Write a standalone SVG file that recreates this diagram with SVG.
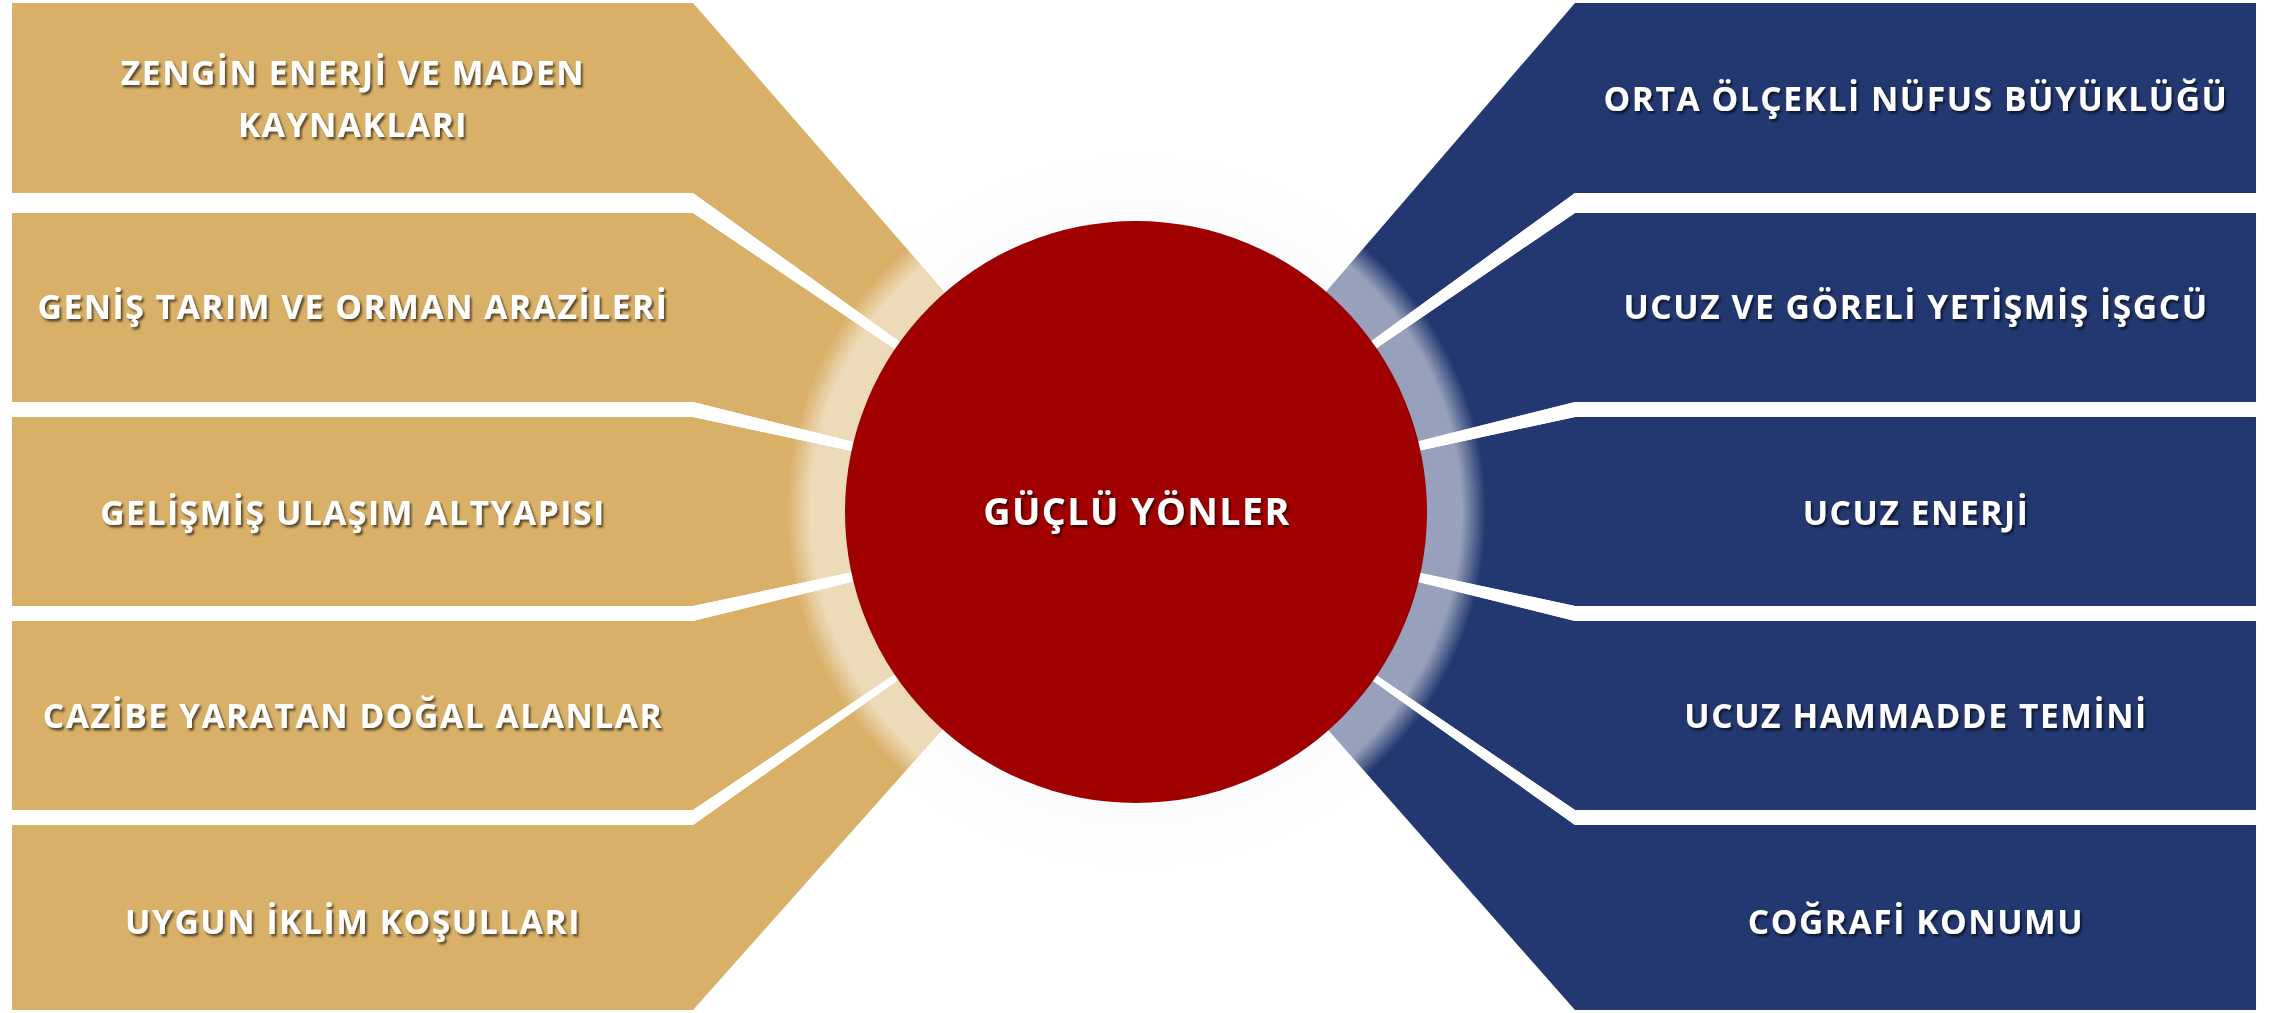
<svg xmlns="http://www.w3.org/2000/svg" width="2287" height="1013" viewBox="0 0 2287 1013">
<defs>
<style>
.gold{fill:#D9B068}
.blue{fill:#233870}
.sep{fill:#FFFFFF}
.lbl{font-family:"Open Sans","Liberation Sans",sans-serif;font-weight:700;font-size:33.5px;letter-spacing:1.6px;fill:#FFFFFF;text-anchor:middle;filter:url(#ts)}
.ctr{font-family:"Open Sans","Liberation Sans",sans-serif;font-weight:700;font-size:37.5px;letter-spacing:1.5px;fill:#FFFFFF;text-anchor:middle;filter:url(#ts)}
</style>
<filter id="ts" x="-10%" y="-30%" width="120%" height="160%">
<feDropShadow dx="2" dy="2.5" stdDeviation="1.3" flood-color="#000000" flood-opacity="0.6"/>
</filter>
<radialGradient id="glow" gradientUnits="userSpaceOnUse" cx="1136" cy="512" r="350">
<stop offset="0.82" stop-color="#FFFFFF" stop-opacity="0.53"/>
<stop offset="0.93" stop-color="#FFFFFF" stop-opacity="0.53"/>
<stop offset="1" stop-color="#FFFFFF" stop-opacity="0"/>
</radialGradient>
<radialGradient id="shade" gradientUnits="userSpaceOnUse" cx="1136" cy="512" r="360">
<stop offset="0.8" stop-color="#000000" stop-opacity="0.025"/>
<stop offset="1" stop-color="#000000" stop-opacity="0"/>
</radialGradient>
</defs>
<rect width="2287" height="1013" fill="#FFFFFF"/>
<circle cx="1136" cy="512" r="360" fill="url(#shade)"/>

<g id="node-l1"><polygon class="gold" points="12,3 693,3 1136,512 693,193 12,193"/>
<text class="lbl" x="353" y="85">ZENGİN ENERJİ VE MADEN</text>
<text class="lbl" x="353" y="137">KAYNAKLARI</text></g>
<g id="node-l2"><polygon class="gold" points="12,213 693,213 1136,512 693,402 12,402"/>
<text class="lbl" x="353" y="319">GENİŞ TARIM VE ORMAN ARAZİLERİ</text></g>
<g id="node-l3"><polygon class="gold" points="12,417 693,417 1136,512 693,606 12,606"/>
<text class="lbl" x="353" y="525">GELİŞMİŞ ULAŞIM ALTYAPISI</text></g>
<g id="node-l4"><polygon class="gold" points="12,621 693,621 1136,512 693,810 12,810"/>
<text class="lbl" x="353" y="728">CAZİBE YARATAN DOĞAL ALANLAR</text></g>
<g id="node-l5"><polygon class="gold" points="12,825 693,825 1136,512 693,1010 12,1010"/>
<text class="lbl" x="353" y="934">UYGUN İKLİM KOŞULLARI</text></g>

<g id="node-r1"><polygon class="blue" points="2256,3 1575,3 1136,512 1575,193 2256,193"/>
<text class="lbl" x="1916" y="111">ORTA ÖLÇEKLİ NÜFUS BÜYÜKLÜĞÜ</text></g>
<g id="node-r2"><polygon class="blue" points="2256,213 1575,213 1136,512 1575,402 2256,402"/>
<text class="lbl" x="1916" y="319">UCUZ VE GÖRELİ YETİŞMİŞ İŞGCÜ</text></g>
<g id="node-r3"><polygon class="blue" points="2256,417 1575,417 1136,512 1575,606 2256,606"/>
<text class="lbl" x="1916" y="525">UCUZ ENERJİ</text></g>
<g id="node-r4"><polygon class="blue" points="2256,621 1575,621 1136,512 1575,810 2256,810"/>
<text class="lbl" x="1916" y="728">UCUZ HAMMADDE TEMİNİ</text></g>
<g id="node-r5"><polygon class="blue" points="2256,825 1575,825 1136,512 1575,1010 2256,1010"/>
<text class="lbl" x="1916" y="934">COĞRAFİ KONUMU</text></g>

<g id="connectors">
<polygon class="sep" points="12,193 693,193 1136,512 693,213 12,213"/>
<polygon class="sep" points="12,402 693,402 1136,512 693,417 12,417"/>
<polygon class="sep" points="12,606 693,606 1136,512 693,621 12,621"/>
<polygon class="sep" points="12,810 693,810 1136,512 693,825 12,825"/>
<polygon class="sep" points="2256,193 1575,193 1136,512 1575,213 2256,213"/>
<polygon class="sep" points="2256,402 1575,402 1136,512 1575,417 2256,417"/>
<polygon class="sep" points="2256,606 1575,606 1136,512 1575,621 2256,621"/>
<polygon class="sep" points="2256,810 1575,810 1136,512 1575,825 2256,825"/>
</g>

<circle cx="1136" cy="512" r="350" fill="url(#glow)"/>
<g id="node-center"><circle cx="1136" cy="512" r="291" fill="#A00000"/>
<text class="ctr" x="1137" y="525">GÜÇLÜ YÖNLER</text></g>
</svg>
